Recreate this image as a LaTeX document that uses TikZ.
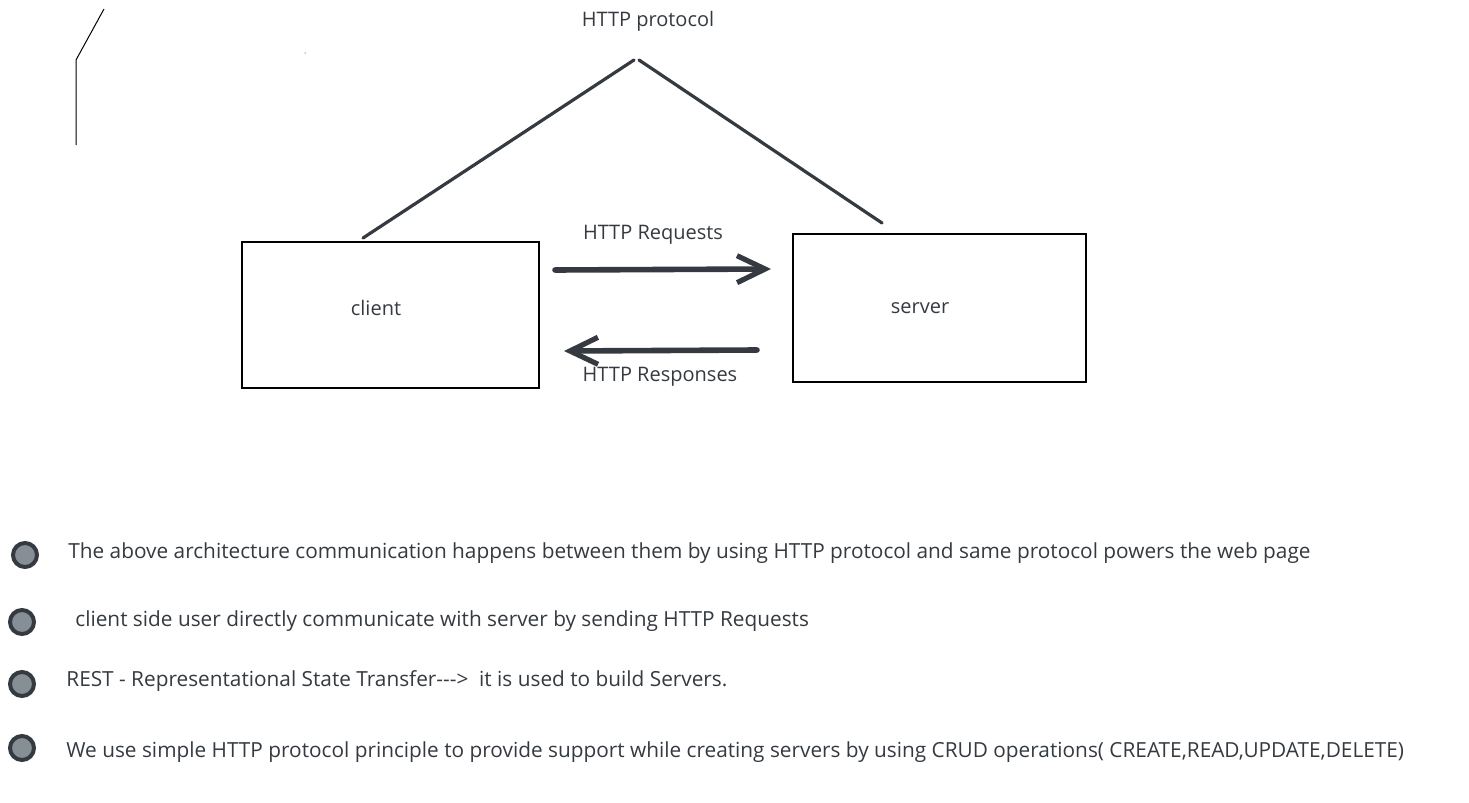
\documentclass[tikz,border=0pt]{standalone}
\usepackage{fontspec}
\setmainfont{Open Sans}
\usetikzlibrary{arrows.meta}
\definecolor{ink}{HTML}{343A40}
\definecolor{dotfill}{HTML}{868E96}
\tikzset{
  px/.style={x=0.5pt,y=-0.5pt},
  box/.style={draw=black,line width=0.6pt,inner sep=0pt},
  lbl/.style={font=\fontsize{10}{12}\selectfont,text=ink,inner sep=0pt},
  note/.style={font=\fontsize{10.4}{12}\selectfont,text=ink,anchor=west,inner sep=0pt},
  bullet/.style={circle,draw=ink,fill=dotfill,line width=2pt,minimum size=12pt,inner sep=0pt},
  tri/.style={draw=ink,line width=1.6pt,line cap=round},
  flow/.style={draw=ink,line width=2.8pt,line cap=round,-{Straight Barb[length=14pt,width=13.5pt,line width=2.6pt]}},
  scribble/.style={draw=black,line width=0.5pt}
}
\begin{document}
\begin{tikzpicture}[px]
\path[use as bounding box] (0,0) rectangle (1469,803);
% scribble top-left
\coordinate (s1) at (104,9);
\coordinate (s2) at (76,60);
\coordinate (s3) at (76,145);
\draw[scribble] (s1) -- (s2) -- (s3);
\fill (305,53) circle[radius=0.5];
% protocol label and apex
\node[lbl] (proto) at (648,21) {HTTP protocol};
\coordinate (apexL) at (634,60);
\coordinate (apexR) at (639,60);
% boxes
\node[box,minimum width=148.5pt,minimum height=73pt] (client) at (390.5,315) {};
\node[lbl] (clientlbl) at (376,308) {client};
\node[box,minimum width=146.5pt,minimum height=74pt] (server) at (939.5,308) {};
\node[lbl] (serverlbl) at (920,308) {server};
\coordinate (cTop) at (363,238);
\coordinate (sTop) at (882,223);
\draw[tri] (apexL) -- (cTop);
\draw[tri] (apexR) -- (sTop);
% arrows
\coordinate (reqA) at (555,270);
\coordinate (reqB) at (771,269);
\coordinate (resA) at (757,350);
\coordinate (resB) at (564,351);
\draw[flow] (reqA) -- (reqB);
\draw[flow] (resA) -- (resB);
\node[lbl] (reqlbl) at (653,235) {HTTP Requests};
\node[lbl] (reslbl) at (660,377) {HTTP Responses};
% bullets
\node[bullet] (b1) at (25,555) {};
\node[bullet] (b2) at (22,622) {};
\node[bullet] (b3) at (22,684) {};
\node[bullet] (b4) at (22,748) {};
\node[note] (t1) at (68,553) {The above architecture communication happens between them by using HTTP protocol and same protocol powers the web page};
\node[note] (t2) at (75,621) {client side user directly communicate with server by sending HTTP Requests};
\node[note] (t3) at (66,681) {REST - Representational State Transfer-{}-{}->\ \ it is used to build Servers.};
\node[note] (t4) at (66,752) {We use simple HTTP protocol principle to provide support while creating servers by using CRUD operations( CREATE,READ,UPDATE,DELETE)};
\end{tikzpicture}
\end{document}
